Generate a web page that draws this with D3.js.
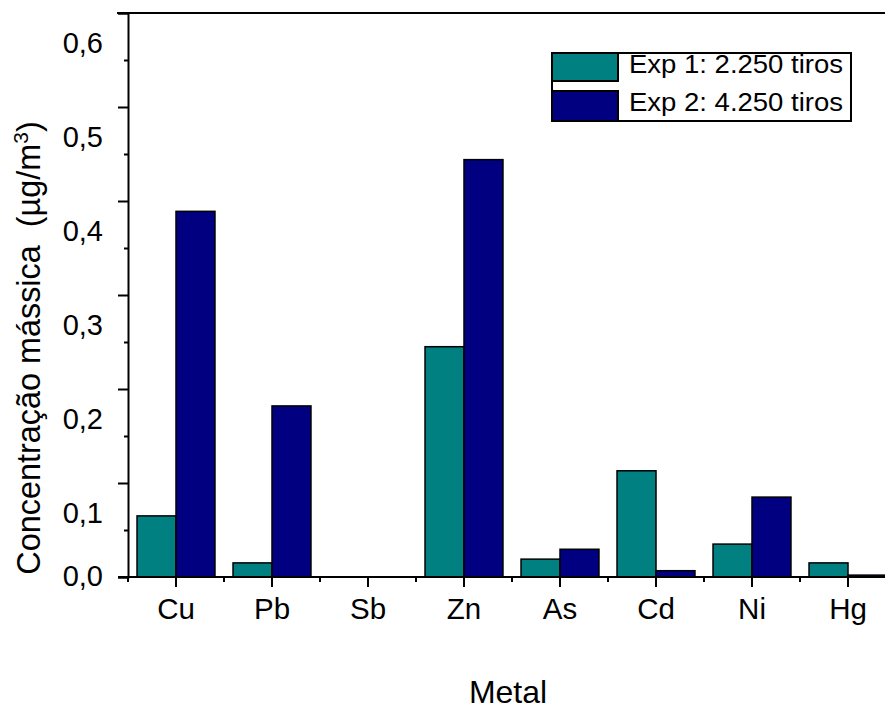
<!DOCTYPE html>
<html>
<head>
<meta charset="utf-8">
<script src="https://cdn.jsdelivr.net/npm/d3@7"></script>
<style>
  html, body { margin: 0; padding: 0; background: #fff; }
  svg { display: block; }
  text { font-family: "Liberation Sans", Arial, Helvetica, sans-serif; fill: #000; }
</style>
</head>
<body>
<svg id="chart" width="885" height="711"></svg>
<script>
// Metals measured in the two shooting experiments
const categories = ["Cu", "Pb", "Sb", "Zn", "As", "Cd", "Ni", "Hg"];
const seriesNames = ["Exp 1: 2.250 tiros", "Exp 2: 4.250 tiros"];
const exp1Values = [0.065, 0.015, 0.0, 0.245, 0.019, 0.113, 0.035, 0.015];
const exp2Values = [0.389, 0.182, 0.0, 0.444, 0.0295, 0.0067, 0.085, 0.002];
const yTickValues = [0, 0.1, 0.2, 0.3, 0.4, 0.5, 0.6];
const yTickLabels = ["0,0", "0,1", "0,2", "0,3", "0,4", "0,5", "0,6"];
const seriesColors = ["#008080", "#000080"];

const svg = d3.select("#chart");
const W = 885, H = 711;
const plot = { left: 128, top: 13, bottom: 577, right: 896 };

const x = d3.scaleBand().domain(categories).range([plot.left, plot.right]).padding(0);
const bw = x.bandwidth();
const x1 = d3.scaleBand().domain([0, 1]).range([bw * 0.094, bw * 0.906]).padding(0);
const y = d3.scaleLinear().domain([0, 0.6]).range([plot.bottom, plot.top]);

// bars
const rows = categories.map((c, i) => ({ c, vals: [exp1Values[i], exp2Values[i]] }));
const g = svg.append("g");
rows.forEach(r => {
  r.vals.forEach((v, s) => {
    if (v <= 0) return;
    g.append("rect")
      .attr("x", x(r.c) + x1(s))
      .attr("y", y(v))
      .attr("width", x1.bandwidth())
      .attr("height", y(0) - y(v))
      .attr("fill", seriesColors[s])
      .attr("stroke", "#000")
      .attr("stroke-width", 1.5);
  });
});

// frame lines (top and bottom extend slightly left of the y axis)
svg.append("line").attr("x1", 117).attr("x2", W).attr("y1", plot.top).attr("y2", plot.top)
  .attr("stroke", "#000").attr("stroke-width", 2);
svg.append("line").attr("x1", 118).attr("x2", W).attr("y1", plot.bottom).attr("y2", plot.bottom)
  .attr("stroke", "#000").attr("stroke-width", 2);

// left axis: major ticks with labels, minor ticks between
const yAxis = d3.axisLeft(y).tickValues(yTickValues).tickSize(10).tickFormat(() => "");
const ya = svg.append("g").attr("transform", `translate(${plot.left},0)`).call(yAxis);
ya.select(".domain").attr("stroke-width", 2);
ya.selectAll(".tick line").attr("stroke-width", 2);
const yMinor = d3.axisLeft(y).tickValues(yTickValues.slice(0, -1).map(v => v + 0.05)).tickSize(4).tickFormat(() => "");
const ym = svg.append("g").attr("transform", `translate(${plot.left},0)`).call(yMinor);
ym.select(".domain").remove();
ym.selectAll(".tick line").attr("stroke-width", 2);

// y tick labels (non-zero labels sit below their ticks)
svg.append("g").selectAll("text").data(yTickValues).join("text")
  .attr("x", 103)
  .attr("y", (d, i) => y(d) + (d === 0 ? 9 : 40))
  .attr("text-anchor", "end")
  .attr("font-size", 29)
  .text((d, i) => yTickLabels[i]);

// bottom axis: category ticks with labels, minor ticks at band edges
const xAxis = d3.axisBottom(x).tickSize(10).tickPadding(12);
const xa = svg.append("g").attr("transform", `translate(0,${plot.bottom})`).call(xAxis);
xa.select(".domain").remove();
xa.selectAll(".tick line").attr("stroke-width", 2);
xa.selectAll(".tick text").attr("font-size", 29.5).attr("font-family", "Liberation Sans, Arial, sans-serif")
  .attr("dy", "0.71em").attr("y", 21);
const edges = categories.map(c => x(c));
svg.append("g").selectAll("line").data(edges).join("line")
  .attr("x1", d => d).attr("x2", d => d)
  .attr("y1", plot.bottom).attr("y2", plot.bottom + 5)
  .attr("stroke", "#000").attr("stroke-width", 2);

// axis titles
svg.append("text")
  .attr("transform", `translate(40,348) rotate(-90)`)
  .attr("text-anchor", "middle")
  .attr("font-size", 32.4)
  .attr("xml:space", "preserve")
  .html("Concentração mássica  (µg/m<tspan dy='-12' font-size='21'>3</tspan><tspan dy='12'>)</tspan>");

svg.append("text")
  .attr("x", 508).attr("y", 703)
  .attr("text-anchor", "middle")
  .attr("font-size", 32)
  .text("Metal");

// legend
const lg = svg.append("g").attr("transform", "translate(552,53)");
lg.append("rect").attr("x", 0).attr("y", 0).attr("width", 299).attr("height", 68)
  .attr("fill", "#fff").attr("stroke", "#000").attr("stroke-width", 2);
seriesNames.forEach((name, i) => {
  const top = i === 0 ? 0 : 38;
  lg.append("rect").attr("x", 0).attr("y", top).attr("width", 66).attr("height", i === 0 ? 28 : 30)
    .attr("fill", seriesColors[i]).attr("stroke", "#000").attr("stroke-width", 2);
  lg.append("text").attr("x", 77).attr("y", i === 0 ? 20 : 58)
    .attr("font-size", 26)
    .attr("textLength", 214).attr("lengthAdjust", "spacingAndGlyphs")
    .text(name);
});
</script>
</body>
</html>
